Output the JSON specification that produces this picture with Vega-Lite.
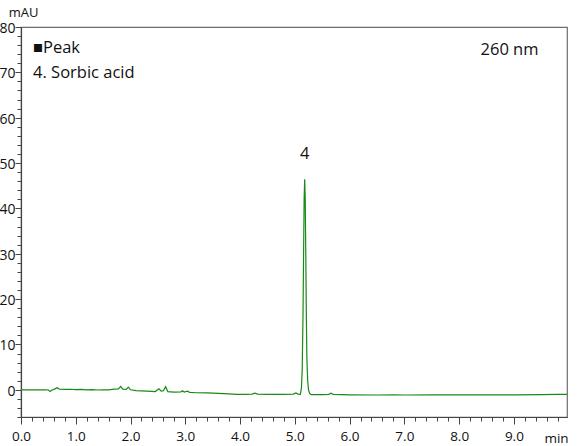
{
  "$schema": "https://vega.github.io/schema/vega-lite/v6.json",
  "width": 546,
  "height": 390,
  "autosize": {"type": "none"},
  "padding": {"left": 21, "top": 27, "right": 13, "bottom": 29},
  "background": "white",
  "config": {
    "view": {"stroke": "#6e6e6e", "strokeWidth": 1.2},
    "font": "Open Sans",
    "axis": {"grid": false, "labelFont": "Open Sans", "titleFont": "Open Sans", "labelColor": "#111", "titleColor": "#111", "domainColor": "#444", "tickColor": "#444", "domainWidth": 1.2, "tickWidth": 1}
  },
  "datasets": {
    "trace": [
      {"t": 0.00, "mAU": 0.0}, {"t": 0.20, "mAU": 0.0}, {"t": 0.45, "mAU": 0.0}, {"t": 0.50, "mAU": -0.05},
      {"t": 0.53, "mAU": -0.35}, {"t": 0.56, "mAU": -0.1}, {"t": 0.62, "mAU": 0.2}, {"t": 0.66, "mAU": 0.45},
      {"t": 0.70, "mAU": 0.15}, {"t": 0.80, "mAU": 0.1}, {"t": 0.90, "mAU": 0.12}, {"t": 1.00, "mAU": 0.05},
      {"t": 1.10, "mAU": 0.08}, {"t": 1.20, "mAU": 0.0}, {"t": 1.30, "mAU": 0.02}, {"t": 1.40, "mAU": -0.05},
      {"t": 1.50, "mAU": -0.02}, {"t": 1.60, "mAU": 0.0}, {"t": 1.70, "mAU": 0.15}, {"t": 1.78, "mAU": 0.2},
      {"t": 1.82, "mAU": 0.75}, {"t": 1.86, "mAU": 0.15}, {"t": 1.92, "mAU": 0.1}, {"t": 1.96, "mAU": 0.6},
      {"t": 2.00, "mAU": 0.0}, {"t": 2.10, "mAU": -0.2}, {"t": 2.20, "mAU": -0.22}, {"t": 2.30, "mAU": -0.3},
      {"t": 2.45, "mAU": -0.4}, {"t": 2.52, "mAU": 0.2}, {"t": 2.56, "mAU": -0.3}, {"t": 2.60, "mAU": -0.2},
      {"t": 2.64, "mAU": 0.7}, {"t": 2.68, "mAU": -0.4}, {"t": 2.80, "mAU": -0.5}, {"t": 2.92, "mAU": -0.45},
      {"t": 2.95, "mAU": -0.2}, {"t": 2.98, "mAU": -0.5}, {"t": 3.04, "mAU": -0.3}, {"t": 3.08, "mAU": -0.55},
      {"t": 3.20, "mAU": -0.65}, {"t": 3.40, "mAU": -0.7}, {"t": 3.60, "mAU": -0.8}, {"t": 3.80, "mAU": -0.9},
      {"t": 3.95, "mAU": -1.0}, {"t": 4.10, "mAU": -1.0}, {"t": 4.22, "mAU": -0.95}, {"t": 4.27, "mAU": -0.75},
      {"t": 4.32, "mAU": -0.95}, {"t": 4.50, "mAU": -1.0}, {"t": 4.80, "mAU": -1.0}, {"t": 4.97, "mAU": -0.95},
      {"t": 5.02, "mAU": -0.7}, {"t": 5.06, "mAU": -0.95}, {"t": 5.10, "mAU": -1.0}, {"t": 5.12, "mAU": 0.3},
      {"t": 5.135, "mAU": 4.5}, {"t": 5.15, "mAU": 17}, {"t": 5.16, "mAU": 30}, {"t": 5.17, "mAU": 42},
      {"t": 5.18, "mAU": 46.4}, {"t": 5.19, "mAU": 42}, {"t": 5.20, "mAU": 30}, {"t": 5.21, "mAU": 17},
      {"t": 5.22, "mAU": 7}, {"t": 5.235, "mAU": 2}, {"t": 5.25, "mAU": 0}, {"t": 5.27, "mAU": -0.8},
      {"t": 5.30, "mAU": -1.05}, {"t": 5.50, "mAU": -1.05}, {"t": 5.62, "mAU": -1.0}, {"t": 5.66, "mAU": -0.75},
      {"t": 5.70, "mAU": -1.0}, {"t": 6.00, "mAU": -1.1}, {"t": 6.50, "mAU": -1.15}, {"t": 6.80, "mAU": -1.12},
      {"t": 7.00, "mAU": -1.15}, {"t": 7.50, "mAU": -1.1}, {"t": 8.00, "mAU": -1.1}, {"t": 8.50, "mAU": -1.1},
      {"t": 9.00, "mAU": -1.1}, {"t": 9.50, "mAU": -1.05}, {"t": 9.80, "mAU": -1.0}, {"t": 9.97, "mAU": -1.0}
    ],
    "leftText": [
      {"t": 0.22, "mAU": 75.3, "label": "■Peak"},
      {"t": 0.22, "mAU": 69.8, "label": "4. Sorbic acid"}
    ],
    "centerText": [
      {"t": 8.92, "mAU": 75.0, "label": "260 nm"},
      {"t": 5.18, "mAU": 52.0, "label": "4"}
    ]
  },
  "layer": [
    {
      "encoding": {
        "x": {
          "field": "t", "type": "quantitative",
          "scale": {"domain": [0, 9.97], "nice": false, "zero": false},
          "axis": {
            "orient": "bottom",
            "title": "min", "titleX": 535, "titleY": 21, "titleAlign": "center", "titleBaseline": "middle",
            "titleFontSize": 13.5, "titleFontWeight": "normal", "titleAngle": 0,
            "values": [0,1,2,3,4,5,6,7,8,9],
            "format": ".1f",
            "tickSize": 7,
            "labelOverlap": false, "labelFlush": false, "labelFontSize": 13.5, "labelPadding": 5
          }
        },
        "y": {
          "field": "mAU", "type": "quantitative",
          "scale": {"domain": [-6, 80], "nice": false, "zero": false},
          "axis": {
            "orient": "left",
            "title": "mAU", "titleAngle": 0, "titleX": 2, "titleY": -15, "titleAlign": "center", "titleBaseline": "middle",
            "titleFontSize": 13, "titleFontWeight": "normal",
            "values": [0,10,20,30,40,50,60,70,80],
            "format": "d",
            "tickSize": 6,
            "labelOverlap": false, "labelFlush": false, "labelFontSize": 14, "labelPadding": 0, "labelBaseline": "middle", "labelOffset": 1.5
          }
        }
      },
      "layer": [
        {
          "data": {"name": "trace"},
          "mark": {"type": "line", "color": "#178a17", "strokeWidth": 1.2, "interpolate": "linear"}
        },
        {
          "data": {"name": "leftText"},
          "mark": {"type": "text", "align": "left", "baseline": "middle", "fontSize": 16.5, "font": "Open Sans", "color": "#111"},
          "encoding": {"text": {"field": "label"}}
        },
        {
          "data": {"name": "centerText"},
          "mark": {"type": "text", "align": "center", "baseline": "middle", "fontSize": 16.5, "font": "Open Sans", "color": "#111"},
          "encoding": {"text": {"field": "label"}}
        }
      ]
    },
    {
      "data": {"name": "trace"},
      "mark": {"type": "point", "opacity": 0},
      "encoding": {
        "x": {
          "field": "t", "type": "quantitative",
          "axis": {
            "orient": "bottom", "title": null, "labels": false, "domain": false, "tickSize": 4,
            "values": [0.2,0.4,0.6,0.8,1.2,1.4,1.6,1.8,2.2,2.4,2.6,2.8,3.2,3.4,3.6,3.8,4.2,4.4,4.6,4.8,5.2,5.4,5.6,5.8,6.2,6.4,6.6,6.8,7.2,7.4,7.6,7.8,8.2,8.4,8.6,8.8,9.2,9.4,9.6,9.8]
          }
        },
        "y": {
          "field": "mAU", "type": "quantitative",
          "axis": {
            "orient": "left", "title": null, "labels": false, "domain": false, "tickSize": 4,
            "values": [-6,-4,-2,2,4,6,8,12,14,16,18,22,24,26,28,32,34,36,38,42,44,46,48,52,54,56,58,62,64,66,68,72,74,76,78]
          }
        }
      }
    }
  ],
  "resolve": {"axis": {"x": "independent", "y": "independent"}}
}
